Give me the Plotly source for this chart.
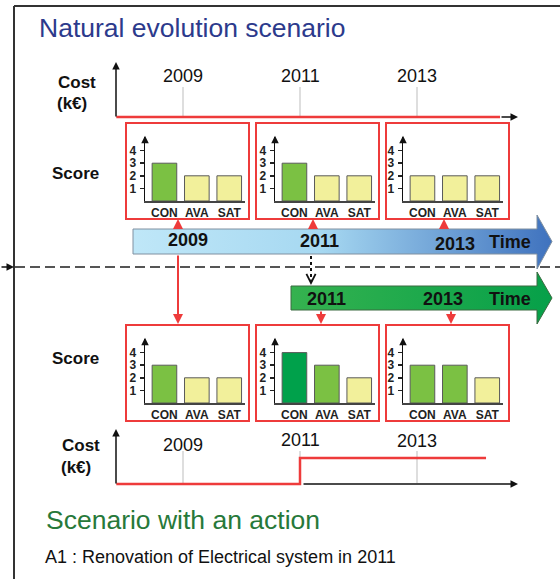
import plotly.graph_objects as go

W, H = 560, 579
FONT = "Liberation Sans, Arial, sans-serif"

# ---------------- data ----------------
categories = ["CON", "AVA", "SAT"]
score_ticks = [1, 2, 3, 4]
panel_years = [2009, 2011, 2013]
natural_scores = [[3, 2, 2], [3, 2, 2], [2, 2, 2]]
action_scores = [[3, 2, 2], [4, 3, 2], [3, 3, 2]]
cost_tick_years = [2009, 2011, 2013]
natural_cost_years = [2007.86, 2014.42]
natural_cost = [0, 0]
action_cost_years = [2007.86, 2011, 2011, 2014.18]
action_cost = [0, 0, 1, 1]
score_colors = {2: "#F2F09B", 3: "#7BC143", 4: "#00A14B"}

# ---------------- geometry helpers (pixels) ----------------
def xd(p0, p1):
    return [p0 / W, p1 / W]

def yd(top, bottom):
    return [1 - bottom / H, 1 - top / H]

RED = "#EE3B3B"
fig = go.Figure()
layout = dict(
    width=W, height=H, margin=dict(l=0, r=0, t=0, b=0),
    paper_bgcolor="white", plot_bgcolor="rgba(0,0,0,0)",
    showlegend=False, font=dict(family=FONT, color="#111"),
    xaxis=dict(domain=[0, 1], range=[0, W], visible=False, fixedrange=True),
    yaxis=dict(domain=[0, 1], range=[H, 0], visible=False, fixedrange=True),
)

# ---------------- timeline arrows ----------------
def arrow_poly(x0, x1, tip, top, bot, htop, hbot):
    mid = (top + bot) / 2
    return ([x0, x1, x1, tip, x1, x1, x0, x0],
            [top, top, htop, mid, hbot, bot, bot, top])

bx, by = arrow_poly(133, 537, 552, 229, 254, 215, 269)
fig.add_trace(go.Scatter(
    x=bx, y=by, mode="lines", fill="toself", hoverinfo="skip",
    line=dict(color="#8090a0", width=1),
    fillgradient=dict(type="horizontal",
                      colorscale=[[0, "#BFE7F8"], [0.45, "#A6D8F1"], [1, "#3F72BE"]]),
    xaxis="x", yaxis="y"))
gx, gy = arrow_poly(291, 537, 552, 286, 310, 272, 324)
fig.add_trace(go.Scatter(
    x=gx, y=gy, mode="lines", fill="toself", hoverinfo="skip",
    line=dict(color="#3a6a40", width=1),
    fillgradient=dict(type="horizontal",
                      colorscale=[[0, "#35B24F"], [1, "#06A049"]]),
    xaxis="x", yaxis="y"))

shapes = []
annotations = []

def text(x, y, s, size=17, color="#111", bold=False, xanchor="center", xref="x"):
    annotations.append(dict(
        x=x, y=y, xref=xref, yref="y", text=(f"<b>{s}</b>" if bold else s),
        showarrow=False, xanchor=xanchor, yanchor="middle",
        font=dict(family=FONT, size=size, color=color)))

def arrow(x, y, ax, ay, color="#111", width=1.5, head=2, size=1.0):
    # (x, y) = arrow tip; (ax, ay) = tail offset in screen pixels (y down)
    annotations.append(dict(
        x=x, y=y, xref="x", yref="y", ax=ax, ay=ay, axref="pixel", ayref="pixel",
        text="", showarrow=True, arrowhead=head, arrowsize=size,
        arrowwidth=width, arrowcolor=color, standoff=0))

# frame
shapes.append(dict(type="line", xref="x", yref="y", x0=14, x1=14, y0=6, y1=H,
                   line=dict(color="#333", width=2)))
shapes.append(dict(type="line", xref="x", yref="y", x0=14, x1=W, y0=6, y1=6,
                   line=dict(color="#333", width=2)))
# dashed separator
shapes.append(dict(type="line", xref="x", yref="y", x0=15, x1=W, y0=267, y1=267,
                   line=dict(color="#555", width=1.8, dash="10px,5px")))
arrow(14, 267, -14, 0, color="#111", width=1.5)

# ---------------- mini bar charts ----------------
AXIS_X = [145, 275, 403]
BOX_X = [(126, 249), (256, 379), (386, 509)]
ROWS = [(natural_scores, 201, 123, 219), (action_scores, 403, 325, 421)]
PPU = 12.6
SPAN = 32.4
k = 2
for scores_row, base, btop, bbot in ROWS:
    for i, vals in enumerate(scores_row):
        ax0 = AXIS_X[i]
        fig.add_trace(go.Bar(
            x=categories, y=vals, width=0.76,
            marker=dict(color=[score_colors[v] for v in vals],
                        line=dict(color="#5a5a5a", width=1)),
            hoverinfo="skip", xaxis=f"x{k}", yaxis=f"y{k}"))
        top = base - 5.1 * PPU
        layout[f"xaxis{k}"] = dict(
            domain=xd(ax0, ax0 + 3.1 * SPAN), range=[-0.6, 2.5], anchor=f"y{k}",
            showline=True, linecolor="#444", linewidth=1.5, ticks="",
            showgrid=False, zeroline=False, fixedrange=True,
            tickfont=dict(family=FONT, size=12, color="#222", weight="bold"))
        layout[f"yaxis{k}"] = dict(
            domain=yd(top, base), range=[0, 5.1], anchor=f"x{k}",
            showline=True, linecolor="#111", linewidth=1.5,
            tickvals=score_ticks, ticks="outside", ticklen=4, tickwidth=1.5,
            tickcolor="#222", showgrid=False, zeroline=False, fixedrange=True,
            ticklabelstandoff=1,
            tickfont=dict(family=FONT, size=12, color="#222", weight="bold"))
        arrow(ax0, top - 1, 0, 8, color="#111", width=1.5)
        x0, x1 = BOX_X[i]
        shapes.append(dict(type="rect", xref="x", yref="y", x0=x0, x1=x1,
                           y0=btop, y1=bbot, line=dict(color=RED, width=2)))
        k += 1

# ---------------- cost charts ----------------
PPY = 58.5
def year(px):
    return 2011 + (px - 300) / PPY

CPU = 26
for idx, (cx, cy, base) in enumerate([(natural_cost_years, natural_cost, 117),
                                       (action_cost_years, action_cost, 484)]):
    n = 8 + idx
    fig.add_trace(go.Scatter(
        x=cx, y=cy, mode="lines", line=dict(color=RED, width=2.5),
        hoverinfo="skip", xaxis=f"x{n}", yaxis=f"y{n}"))
    layout[f"xaxis{n}"] = dict(domain=xd(110, 522), range=[year(110), year(522)],
                               anchor=f"y{n}", visible=False, fixedrange=True)
    layout[f"yaxis{n}"] = dict(domain=yd(base - 2.0 * CPU, base + 0.15 * CPU),
                               range=[-0.15, 2.0], anchor=f"x{n}",
                               visible=False, fixedrange=True)

# top cost axis decorations
for yr in cost_tick_years:
    shapes.append(dict(type="line", xref="x8", yref="y", x0=yr, x1=yr, y0=87, y1=116,
                       line=dict(color="#bdbdbd", width=1), layer="below"))
    text(yr, 76, str(yr), size=18, xref="x8")
arrow(116, 62, 0, 56, color="#111", width=1.5)
arrow(518, 117, -18, 0, color="#111", width=1.5)
text(56, 82, "Cost", size=17, bold=True, xanchor="left")
text(55, 103, "(k€)", size=17, bold=True, xanchor="left")

# bottom cost axis decorations
bottom_label_y = [445, 440, 441]
for yr, ly in zip(cost_tick_years, bottom_label_y):
    shapes.append(dict(type="line", xref="x9", yref="y", x0=yr, x1=yr, y0=451, y1=483,
                       line=dict(color="#bdbdbd", width=1), layer="below"))
    text(yr, ly, str(yr), size=18, xref="x9")
arrow(116, 429, 0, 56, color="#111", width=1.5)
arrow(518, 484, -216, 0, color="#111", width=1.5)
text(60, 445, "Cost", size=17, bold=True, xanchor="left")
text(59, 467, "(k€)", size=17, bold=True, xanchor="left")

# Score labels
text(50, 173, "Score", size=17, bold=True, xanchor="left")
text(50, 358, "Score", size=17, bold=True, xanchor="left")

# ---------------- connectors ----------------
for xx in [178, 313, 444]:
    arrow(xx, 219, 0, 10, color=RED, width=2)          # pointing up
arrow(178, 324, 0, -70, color=RED, width=2)            # pointing down
arrow(321, 324, 0, -14, color=RED, width=2)
arrow(451, 324, 0, -14, color=RED, width=2)
shapes.append(dict(type="line", xref="x", yref="y", x0=311, x1=311, y0=256, y1=279,
                   line=dict(color="#111", width=2, dash="dot")))
arrow(311, 285, 0, -7, color="#111", width=1.5, head=5, size=1.2)

# timeline labels
for s, x, y in [("2009", 188, 240), ("2011", 319, 241), ("2013", 455, 244), ("Time", 510, 242)]:
    text(x, y, s, size=18, bold=True)
for s, x, y in [("2011", 326, 299), ("2013", 443, 299), ("Time", 510, 299)]:
    text(x, y, s, size=18, bold=True)

# titles
text(37, 28, "Natural evolution scenario", size=26.5, color="#2C3A8C", xanchor="left")
text(44, 520, "Scenario with an action", size=26.5, color="#27793A", xanchor="left")
text(43, 557, "A1 : Renovation of Electrical system in 2011", size=18, color="#111",
     xanchor="left")

layout["shapes"] = shapes
layout["annotations"] = annotations
fig.update_layout(**layout)
fig.write_html("out.html", config={"staticPlot": True},
               post_script="document.body.style.margin='0';document.body.style.overflow='hidden';")
